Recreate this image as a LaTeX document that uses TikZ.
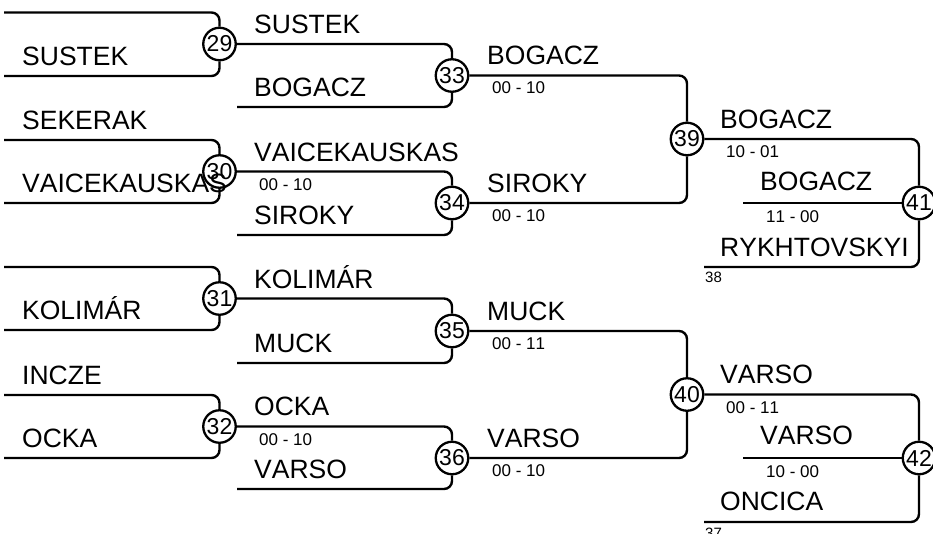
\documentclass[tikz,border=0pt]{standalone}
\usepackage{fontspec}
\setmainfont{Liberation Sans}[Kerning=Off]
\usetikzlibrary{positioning}

\begin{document}
\begin{tikzpicture}[x=1pt,y=-1pt]
  \tikzset{game/.style = {shape=circle,draw,line width=2.3pt,minimum size=32.5pt,inner sep=0pt,font=\fontsize{23}{23}\selectfont}}
  \tikzset{player/.style = {anchor=base west,inner sep=0pt,font=\fontsize{26.5}{26.5}\selectfont}}
  \tikzset{score/.style = {anchor=base west,inner sep=0pt,font=\fontsize{17}{17}\selectfont}}
  \tikzset{seed/.style = {anchor=base west,inner sep=0pt,font=\fontsize{15}{15}\selectfont}}
  \tikzset{line/.style = {line width=2.4pt,rounded corners=8pt}}

  \useasboundingbox (0,0) rectangle (933,533);

	% games
	\node[game] (G29) at (219.5,44) {29};
	\node[game] (G30) at (219.5,171.5) {30};
	\node[game] (G31) at (219.5,298.5) {31};
	\node[game] (G32) at (219.5,426.5) {32};
	\node[game] (G33) at (452,75.5) {33};
	\node[game] (G34) at (452,203) {34};
	\node[game] (G35) at (452,331) {35};
	\node[game] (G36) at (452,458) {36};
	\node[game] (G39) at (687,139) {39};
	\node[game] (G40) at (687,394.5) {40};
	\node[game] (G41) at (919,203) {41};
	\node[game] (G42) at (919,458) {42};

	% free line ends
	\coordinate (A29) at (4,12.5);   \coordinate (B29) at (4,76);
	\coordinate (A30) at (4,140);    \coordinate (B30) at (4,203);
	\coordinate (A31) at (4,267);    \coordinate (B31) at (4,330);
	\coordinate (A32) at (4,395);    \coordinate (B32) at (4,458);
	\coordinate (B33) at (237,107);  \coordinate (B34) at (237,235);
	\coordinate (B35) at (237,363);  \coordinate (B36) at (237,489);
	\coordinate (C41) at (743,203);  \coordinate (B41) at (704,267);
	\coordinate (C42) at (743,458);  \coordinate (B42) at (704,522);

    \foreach \from/\to in {A29/G29,B29/G29,A30/G30,B30/G30,A31/G31,B31/G31,A32/G32,B32/G32,
      G29/G33,B33/G33,G30/G34,B34/G34,G31/G35,B35/G35,G32/G36,B36/G36,
      G33/G39,G34/G39,G35/G40,G36/G40,G39/G41,B41/G41,G40/G42,B42/G42}
    \draw[line] (\from) -| (\to);

    \foreach \from/\to in {C41/G41,C42/G42}
    \draw[line] (\from) -- (\to);

	% names
	\node[player] (n1) at (22,65) {SUSTEK};
	\node[player] (n2) at (22,129) {SEKERAK};
	\node[player] (n3) at (22,192) {VAICEKAUSKAS};
	\node[player] (n4) at (22,319) {KOLIMÁR};
	\node[player] (n5) at (22,384) {INCZE};
	\node[player] (n6) at (22,447) {OCKA};

	\node[player] (n7) at (254,33) {SUSTEK};
	\node[player] (n8) at (254,96) {BOGACZ};
	\node[player] (n9) at (254,161) {VAICEKAUSKAS};
	\node[player] (n10) at (254,224) {SIROKY};
	\node[player] (n11) at (254,288) {KOLIMÁR};
	\node[player] (n12) at (254,352) {MUCK};
	\node[player] (n13) at (254,415) {OCKA};
	\node[player] (n14) at (254,478) {VARSO};

	\node[player] (n15) at (487,64.5) {BOGACZ};
	\node[player] (n16) at (487,192) {SIROKY};
	\node[player] (n17) at (487,320) {MUCK};
	\node[player] (n18) at (487,447) {VARSO};

	\node[player] (n19) at (720,128) {BOGACZ};
	\node[player] (n20) at (760,190) {BOGACZ};
	\node[player] (n21) at (720,256) {RYKHTOVSKYI};
	\node[player] (n22) at (720,383) {VARSO};
	\node[player] (n23) at (760,444) {VARSO};
	\node[player] (n24) at (720,510) {ONCICA};

	% scores
	\node[score] (s1) at (259,190) {00 - 10};
	\node[score] (s2) at (259,445) {00 - 10};
	\node[score] (s3) at (492,93.5) {00 - 10};
	\node[score] (s4) at (492,221) {00 - 10};
	\node[score] (s5) at (492,349) {00 - 11};
	\node[score] (s6) at (492,476) {00 - 10};
	\node[score] (s7) at (726,157) {10 - 01};
	\node[score] (s8) at (766,222) {11 - 00};
	\node[score] (s9) at (726,413) {00 - 11};
	\node[score] (s10) at (766,477) {10 - 00};

	\node[seed] (d38) at (705,282) {38};
	\node[seed] (d37) at (705,538) {37};

\end{tikzpicture}
\end{document}
